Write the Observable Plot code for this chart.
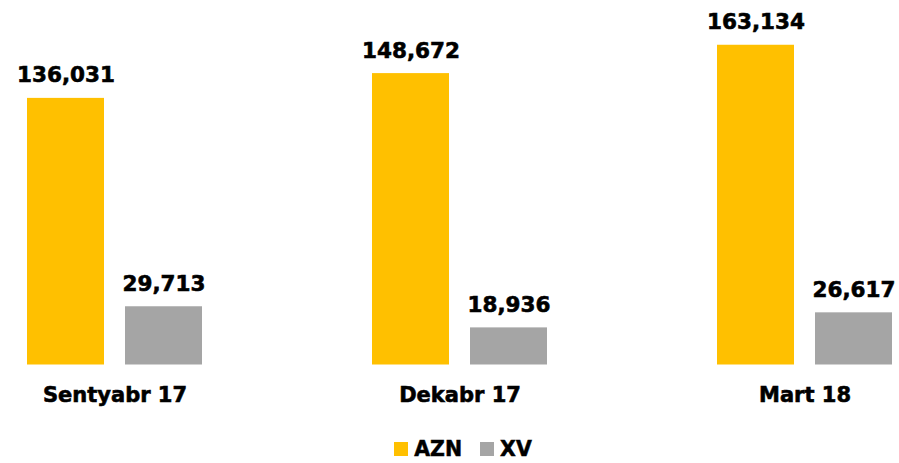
<!DOCTYPE html>
<html>
<head>
<meta charset="utf-8">
<script src="https://cdn.jsdelivr.net/npm/d3@7"></script>
<script src="https://cdn.jsdelivr.net/npm/@observablehq/plot@0.6"></script>
<style>
  html, body { margin: 0; padding: 0; background: #fff; }
  #chart { width: 899px; }
  svg text { stroke: #000; stroke-width: 0.6px; paint-order: stroke; }
  .legend { display: flex; justify-content: center; align-items: center; height: 48px; padding-left: 27px; box-sizing: border-box;
    font-family: "DejaVu Sans", sans-serif; font-weight: bold; font-size: 20.5px; color: #000;
    -webkit-text-stroke: 0.5px #000; }
  .legend .item { display: flex; align-items: center; margin: 0 9px; }
  .legend .sw { width: 14px; height: 14px; margin-right: 6px; }
</style>
</head>
<body>
<div id="chart"></div>
<script>
const months = ["Sentyabr 17", "Dekabr 17", "Mart 18"];
const series = ["AZN", "XV"];
const aznValues = [136031, 148672, 163134];
const xvValues = [29713, 18936, 26617];
const colors = ["#FFC000", "#A5A5A5"];

const data = months.flatMap((m, i) => [
  {month: m, series: "AZN", value: aznValues[i]},
  {month: m, series: "XV", value: xvValues[i]}
]);

const fmt = d3.format(",");
const font = "DejaVu Sans, sans-serif";

const plot = Plot.plot({
  width: 899,
  height: 425,
  marginTop: 0,
  marginLeft: 0,
  marginRight: 0,
  marginBottom: 60.5,
  style: {fontFamily: font, background: "#fff"},
  fx: {domain: months, range: [-58.5, 976.5], padding: 0, label: null},
  x: {domain: series, range: [84.5, 260.5], paddingInner: 0.213, paddingOuter: 0, axis: null},
  y: {domain: [0, 170000], range: [364.5, 31.3], axis: null},
  color: {domain: series, range: colors},
  marks: [
    Plot.barY(data, {fx: "month", x: "series", y: "value", fill: "series"}),
    Plot.text(data, {fx: "month", x: "series", y: "value", text: d => fmt(d.value),
      dy: -16, lineAnchor: "bottom", fontSize: 21.5, fontWeight: "bold", fill: "#000"}),
    Plot.axisFx({anchor: "bottom", tickSize: 0, tickPadding: 22, label: null,
      fontSize: 21, fontWeight: "bold", fill: "#000", lineAnchor: "top"})
  ]
});
document.getElementById("chart").appendChild(plot);

const legend = document.createElement("div");
legend.className = "legend";
series.forEach((s, i) => {
  const item = document.createElement("div");
  item.className = "item";
  const sw = document.createElement("span");
  sw.className = "sw";
  sw.style.background = colors[i];
  const label = document.createElement("span");
  label.textContent = s;
  item.appendChild(sw);
  item.appendChild(label);
  legend.appendChild(item);
});
document.getElementById("chart").appendChild(legend);
</script>
</body>
</html>
